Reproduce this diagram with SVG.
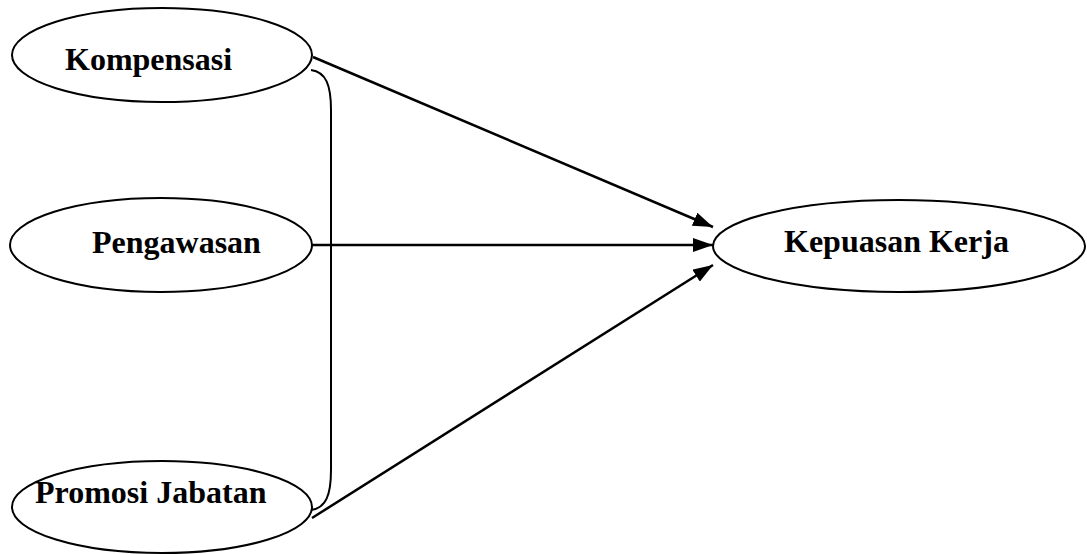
<svg xmlns="http://www.w3.org/2000/svg" width="1087" height="554" viewBox="0 0 1087 554">
<style>
.node ellipse{fill:#fff;stroke:#000;stroke-width:2}
.node text{font-family:"Liberation Serif","Times New Roman",serif;font-weight:bold;font-size:32px;fill:#000}
.conn{fill:none;stroke:#000;stroke-width:2.5}
.brace{fill:none;stroke:#000;stroke-width:2}
</style>
<defs>
<marker id="arr" viewBox="0 0 20 14" refX="20" refY="7" markerWidth="20" markerHeight="14" markerUnits="userSpaceOnUse" orient="auto">
<path d="M0,0 L20,7 L0,14 Z" fill="#000"/>
</marker>
</defs>
<rect width="1087" height="554" fill="#fff"/>
<g id="connectors">
<path class="brace" d="M311,70 C326,72 331,85 331,110 L331,470 C331,495 326,508 311,510"/>
<line class="conn" x1="313" y1="57" x2="713" y2="227" marker-end="url(#arr)"/>
<line class="conn" x1="312" y1="245" x2="713" y2="245" marker-end="url(#arr)"/>
<line class="conn" x1="312" y1="518" x2="713" y2="265" marker-end="url(#arr)"/>
</g>
<g id="node-kompensasi" class="node">
<ellipse cx="162" cy="55" rx="150" ry="47"/>
<text x="65" y="70">Kompensasi</text>
</g>
<g id="node-pengawasan" class="node">
<ellipse cx="161" cy="245" rx="151" ry="47"/>
<text x="92" y="253">Pengawasan</text>
</g>
<g id="node-promosi" class="node">
<ellipse cx="162" cy="507" rx="150" ry="46"/>
<text x="35" y="503">Promosi Jabatan</text>
</g>
<g id="node-kepuasan" class="node">
<ellipse cx="899" cy="246" rx="186" ry="46"/>
<text x="784" y="252">Kepuasan Kerja</text>
</g>
</svg>
